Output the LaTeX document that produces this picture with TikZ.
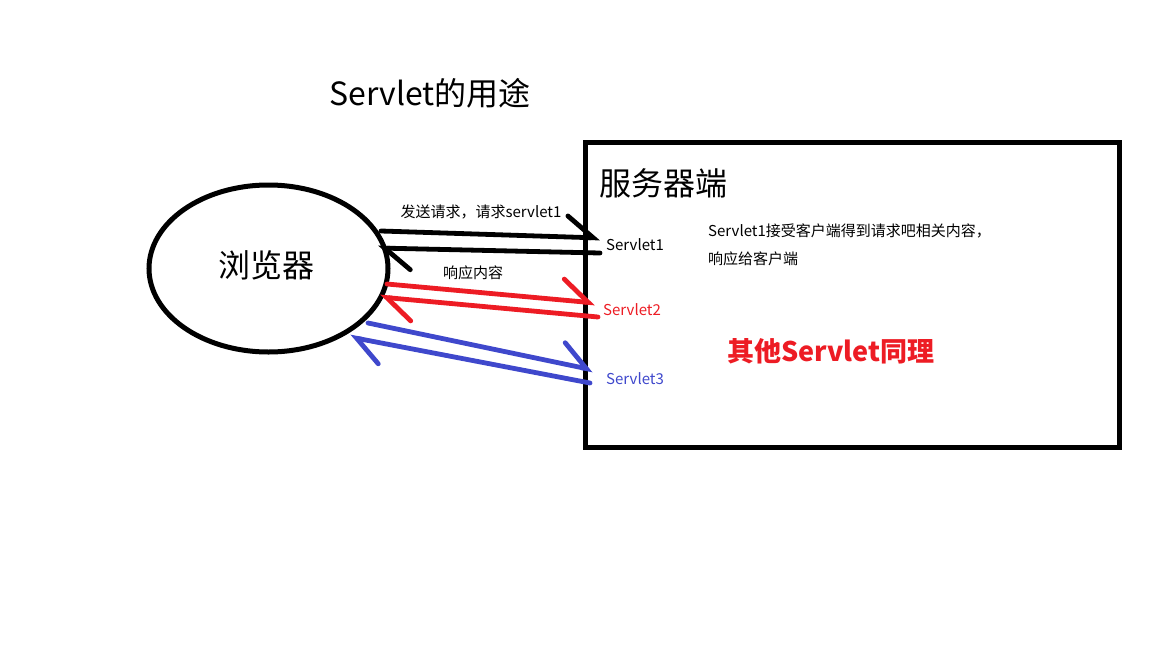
\documentclass[tikz,border=0pt]{standalone}
\usepackage{fontspec}
\setmainfont{Noto Sans CJK SC}
\usepackage{xcolor}
\usetikzlibrary{arrows.meta, positioning, shapes.geometric}

\definecolor{paintred}{RGB}{237,28,36}
\definecolor{paintblue}{RGB}{63,72,204}

\begin{document}
\begin{tikzpicture}[x=1pt, y=-1pt,
    big/.style={inner sep=0pt, font=\fontsize{32}{38}\selectfont},
    small/.style={inner sep=0pt, font=\fontsize{15}{18}\selectfont},
    harp/.style={line width=4.8pt, line cap=round, -{Straight Barb[harpoon, length=26pt, width=42pt, line cap=round]}}
]
\useasboundingbox (0,0) rectangle (1152,648);

\node[big] (title) at (430,93) {Servlet的用途};

% browser and server
\node[draw, line width=5pt, ellipse, minimum width=239pt, minimum height=167pt, inner sep=0pt] (browser) at (268.5,268.5) {};
\node[big] (browsertxt) at (266,265) {浏览器};
\node[draw, line width=5pt, rectangle, minimum width=533.5pt, minimum height=304.5pt, anchor=north west, inner sep=0pt, outer sep=0pt] (server) at (585.5,142.5) {};
\node[big, anchor=west] (servertxt) at (599,183) {服务器端};

% servlets
\node[small, anchor=west] (s1) at (606,245) {Servlet1};
\node[small, anchor=west, text=paintred] (s2) at (603,310) {Servlet2};
\node[small, anchor=west, text=paintblue] (s3) at (606,379) {Servlet3};

\node[small] (req) at (481,212) {发送请求，请求servlet1};
\node[small] (resp) at (473,273) {响应内容};
\node[small, anchor=west] (desc1) at (708,231) {Servlet1接受客户端得到请求吧相关内容，};
\node[small, anchor=west] (desc2) at (708,259) {响应给客户端};
\node[inner sep=0pt, text=paintred, font=\fontsize{27}{32}\selectfont\bfseries] (others) at (831,351) {其他Servlet同理};

% arrow end points
\coordinate (b1) at (381,231);  \coordinate (e1) at (600,238);
\coordinate (b2) at (378,248);  \coordinate (e2) at (600,253);
\coordinate (b3) at (387,284);  \coordinate (e3) at (595,303);
\coordinate (b4) at (380,297);  \coordinate (e4) at (598,317);
\coordinate (b5) at (368,323);  \coordinate (e5) at (593,370);
\coordinate (b6) at (350,337);  \coordinate (e6) at (590,383);

\draw[harp] (b1) -- (e1);
\draw[harp] (e2) -- (b2);
\draw[harp, paintred] (b3) -- (e3);
\draw[harp, paintred] (e4) -- (b4);
\draw[harp, paintblue] (b5) -- (e5);
\draw[harp, paintblue] (e6) -- (b6);
\end{tikzpicture}
\end{document}
